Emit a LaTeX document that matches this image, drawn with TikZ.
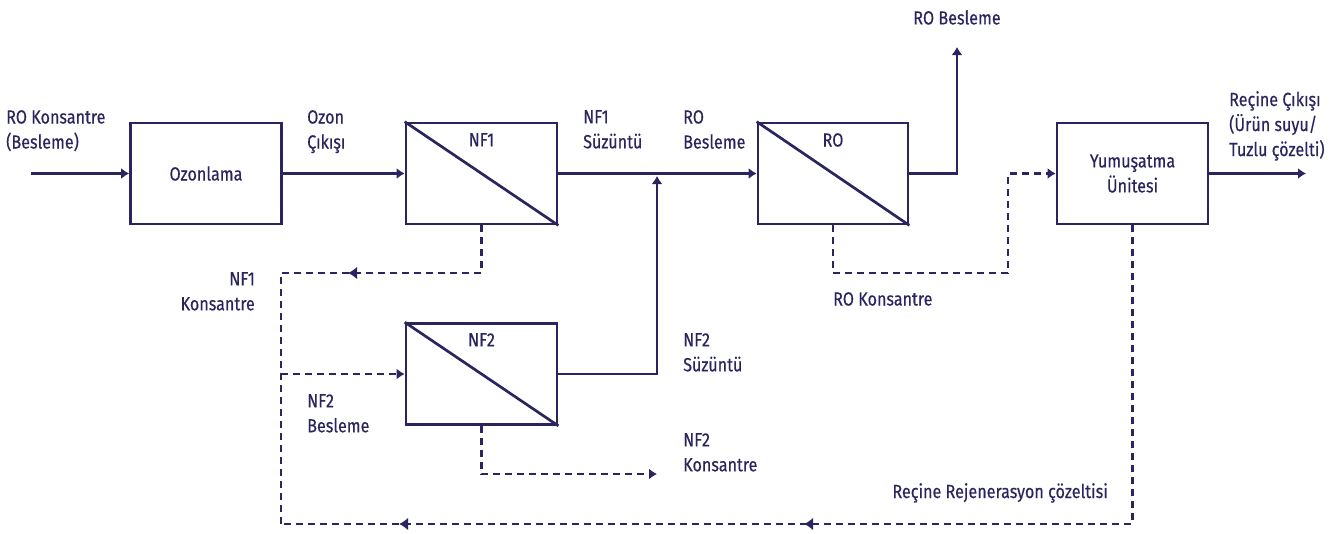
\documentclass[tikz,border=0pt]{standalone}
\usepackage{fontspec}
\setmainfont{Fira Sans}[FakeStretch=0.85,FakeBold=0.4]
\usetikzlibrary{arrows.meta,decorations.markings}
\definecolor{navy}{RGB}{42,37,94}
\newcommand{\lblfont}{\fontsize{19}{25}\selectfont}
\begin{document}
\begin{tikzpicture}[x=1pt,y=-1pt,
  lbl/.style={text=navy,font=\lblfont,inner sep=0pt},
  box/.style={draw=navy,line width=2.7pt,minimum width=151pt,minimum height=101pt,inner sep=0pt,text=navy,font=\lblfont,align=center},
  flow/.style={draw=navy,line width=2.7pt},
  dl/.style={flow,dash pattern=on 7pt off 5pt},
  tip/.style={-{Latex[length=8pt,width=11pt]}},
  midarr/.style={postaction={decorate},decoration={markings,mark=at position #1 with {\arrow{Latex[length=9pt,width=13pt]}}}},
  midarrtwo/.style 2 args={postaction={decorate},decoration={markings,
     mark=at position #1 with {\arrow{Latex[length=9pt,width=13pt]}},
     mark=at position #2 with {\arrow{Latex[length=9pt,width=13pt]}}}}]
\useasboundingbox (0,0) rectangle (1343,533);
% boxes
\node[box] (oz) at (206,173.5) {Ozonlama};
\node[box] (nf1) at (481.5,173.5) {};
\node[box,minimum width=150pt] (ro) at (833,173.5) {};
\node[box] (yum) at (1132.5,173.5) {Yumuşatma\\Ünitesi};
\node[box] (nf2) at (481.5,374) {};
\draw[flow] (nf1.north west) -- (nf1.south east);
\draw[flow] (ro.north west) -- (ro.south east);
\draw[flow] (nf2.north west) -- (nf2.south east);
\node[lbl,anchor=north] (nf1t) at (481.5,133) {NF1};
\node[lbl,anchor=north] (rot) at (833,133) {RO};
\node[lbl,anchor=north] (nf2t) at (481.5,333) {NF2};
% coordinates
\coordinate (in) at (31,173.5);
\coordinate (jt) at (657,176);
\coordinate (j2) at (657,374);
\coordinate (r1) at (957,173.5);
\coordinate (r2) at (957,47);
\coordinate (yo) at (1306,173.5);
\coordinate (k1) at (481.5,273);
\coordinate (lc) at (281,273);
\coordinate (lb) at (281,524);
\coordinate (yb) at (1132.5,524);
\coordinate (f2) at (281,374);
\coordinate (k2) at (481.5,474);
\coordinate (k2e) at (657,474);
\coordinate (rk1) at (833,273);
\coordinate (rk2) at (1008,273);
\coordinate (rk3) at (1008,173.5);
% solid flows
\draw[flow,tip] (in) -- (oz.west);
\draw[flow,tip] (oz.east) -- (nf1.west);
\draw[flow,tip] (nf1.east) -- (ro.west);
\draw[flow,tip] (nf2.east) -- (j2) -- (jt);
\draw[flow,tip] (ro.east) -- (r1) -- (r2);
\draw[flow,tip] (yum.east) -- (yo);
% dashed flows
\draw[dl,midarr=181pt] (nf1.south) -- (k1) -- (lc) -- (lb);
\draw[dl,midarrtwo={627pt}{1032pt}] (yum.south) -- (yb) -- (lb);
\draw[dl,tip] (f2) -- (nf2.west);
\draw[dl,tip] (nf2.south) -- (k2) -- (k2e);
\draw[dl,tip] (ro.south) -- (rk1) -- (rk2) -- (rk3) -- (yum.west);
% labels
\node[lbl,anchor=north west,align=left] (l1) at (6,110) {RO Konsantre\\(Besleme)};
\node[lbl,anchor=north west,align=left] (l2) at (307,110) {Ozon\\Çıkışı};
\node[lbl,anchor=north west,align=left] (l3) at (583,110) {NF1\\Süzüntü};
\node[lbl,anchor=north west,align=left] (l4) at (683,110) {RO\\Besleme};
\node[lbl,anchor=north] (l5) at (957,10) {RO Besleme};
\node[lbl,anchor=north west,align=left] (l6) at (1229,91) {Reçine Çıkışı\\(Ürün suyu/\\Tuzlu çözelti)};
\node[lbl,anchor=north east,align=right] (l7) at (255,272) {NF1\\Konsantre};
\node[lbl,anchor=north west] (l8) at (833,292) {RO Konsantre};
\node[lbl,anchor=north west,align=left] (l9) at (683,333) {NF2\\Süzüntü};
\node[lbl,anchor=north west,align=left] (l10) at (307,394) {NF2\\Besleme};
\node[lbl,anchor=north west,align=left] (l11) at (683,433) {NF2\\Konsantre};
\node[lbl,anchor=north east] (l12) at (1108,483) {Reçine Rejenerasyon çözeltisi};
\end{tikzpicture}
\end{document}
